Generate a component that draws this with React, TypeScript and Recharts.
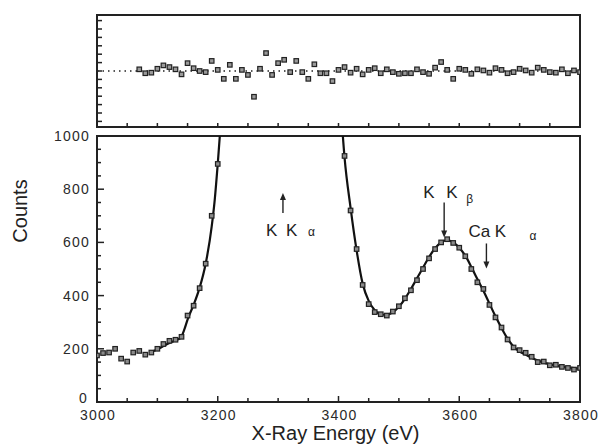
import React from 'react';
import {
  ComposedChart,
  Line,
  Scatter,
  XAxis,
  YAxis,
  ReferenceLine,
  ReferenceArea,
  ReferenceDot,
} from 'recharts';

// ---------- data ----------
const fitEnergy = [
  3090, 3100, 3110, 3120, 3130, 3138, 3145, 3150, 3160, 3170, 3180, 3190, 3195, 3200, 3206,
  3300,
  3404, 3410, 3420, 3430, 3440, 3450, 3460, 3470, 3480, 3490, 3500, 3510, 3520, 3530, 3540,
  3550, 3560, 3570, 3580, 3590, 3600, 3610, 3620, 3630, 3640, 3650, 3660, 3670, 3680, 3690,
  3700, 3710, 3720, 3730, 3740, 3750, 3760, 3770, 3780, 3790, 3800,
];
const fitCounts: (number | null)[] = [
  188, 198, 210, 222, 232, 240, 275, 310, 365, 430, 520, 660, 760, 895, 1080,
  null,
  1100, 920, 730, 570, 445, 380, 345, 330, 328, 338, 358, 388, 425, 465, 505,
  545, 578, 600, 608, 600, 580, 550, 508, 462, 418, 370, 322, 278, 238, 208,
  190, 178, 166, 156, 148, 142, 137, 133, 130, 127, 125,
];

const measEnergy = [
  3000, 3010, 3020, 3030, 3040, 3050, 3060, 3070, 3080, 3090, 3100, 3110, 3120, 3130, 3140,
  3150, 3160, 3170, 3180, 3190, 3200,
  3410, 3420, 3430, 3440, 3450, 3460, 3470, 3480, 3490, 3500, 3510, 3520, 3530, 3540, 3550,
  3560, 3570, 3580, 3590, 3600, 3610, 3620, 3630, 3640, 3650, 3660, 3670, 3680, 3690, 3700,
  3710, 3720, 3730, 3740, 3750, 3760, 3770, 3780, 3790, 3800,
];
const measCounts = [
  175, 184, 186, 200, 163, 152, 186, 192, 178, 186, 200, 218, 230, 234, 245,
  325, 362, 428, 520, 700, 895,
  925, 720, 575, 440, 368, 338, 330, 325, 340, 360, 390, 420, 458, 500, 540,
  575, 600, 612, 598, 580, 548, 500, 450, 425, 365, 318, 280, 235, 205, 195,
  185, 170, 150, 152, 138, 140, 132, 128, 122, 128,
];

const resEnergy = [
  3070, 3080, 3090, 3100, 3110, 3120, 3130, 3140, 3150, 3160, 3170, 3180, 3190, 3200, 3210,
  3220, 3230, 3240, 3250, 3260, 3270, 3280, 3290, 3300, 3310, 3320, 3330, 3340, 3350, 3360,
  3370, 3380, 3390, 3400, 3410, 3420, 3430, 3440, 3450, 3460, 3470, 3480, 3490, 3500, 3510,
  3520, 3530, 3540, 3550, 3560, 3570, 3580, 3590, 3600, 3610, 3620, 3630, 3640, 3650, 3660,
  3670, 3680, 3690, 3700, 3710, 3720, 3730, 3740, 3750, 3760, 3770, 3780, 3790, 3800,
];
const resValues = [
  0.3, -0.4, -0.3, 0.4, 1.0, 0.7, 0.3, -0.6, 1.4, 0.5, 0, -0.2, 1.8, 0.2, -1.4,
  1.1, -1.4, 0.2, -0.7, -4.6, 0.4, 3.2, -0.7, 1.4, 2.0, -0.2, 1.8, -0.2, -1.4, 1.2,
  -0.4, -0.4, -1.8, 0.2, 0.7, -0.3, 0.4, -0.6, 0.2, 0.5, -0.4, 0.3, -0.2, -0.5, -0.4,
  -0.4, 0.3, -0.2, -0.5, 0.6, 1.6, 0.2, -1.4, 0.4, 0.2, -0.5, 0.3, 0.1, -0.3, 0.5,
  0.2, -0.4, -0.2, 0.4, 0.1, -0.3, 0.6, 0.2, -0.2, -0.3, 0.3, -0.4, 0.1, -0.2,
];

const xLabelTicks = [3000, 3200, 3400, 3600, 3800];
const yLabelTicks = [0, 200, 400, 600, 800, 1000];
const xDomain = [3000, 3800];
const yDomain = [0, 1000];
const resDomain = [-10, 10];

// tick positions (minor every 50 eV / 50 counts)
const xTickPositions: number[] = [];
for (let v = 3000; v <= 3800; v += 50) xTickPositions.push(v);
const yTickPositions: number[] = [];
for (let v = 0; v <= 1000; v += 50) yTickPositions.push(v);
const resTickPositions: number[] = [];
for (let v = -9; v <= 9.01; v += 1.5) resTickPositions.push(Math.round(v * 10) / 10);

// ---------- derived tables ----------
const fitData = fitEnergy.map((e, i) => ({ e, c: fitCounts[i] }));
const measData = measEnergy.map((e, i) => ({ e, c: measCounts[i] }));
const resData = resEnergy.map((e, i) => ({ e, r: resValues[i] }));

// ---------- styling ----------
const INK = '#222';
const FONT = '"Liberation Sans", Arial, Helvetica, sans-serif';

const makeSquare = (size: number, fill: string) => (p: any) => (
  <rect
    x={p.cx - size / 2}
    y={p.cy - size / 2}
    width={size}
    height={size}
    fill={fill}
    stroke={INK}
    strokeWidth={1.2}
  />
);

const BottomYTick = (props: any) => {
  const { x, y, payload } = props;
  const v = payload.value;
  const major = yLabelTicks.includes(v);
  return (
    <g>
      <line x1={x} x2={x + (major ? 7 : 4)} y1={y} y2={y} stroke={INK} strokeWidth={1.5} />
      {major && (
        <text
          x={x - (v === 0 ? 9 : 7)}
          y={y}
          dy={v === 0 ? 1 : 5}
          textAnchor="end"
          fontSize={14}
          fill="#2a2a2a"
          fontFamily={FONT}
          letterSpacing={1.2}
        >
          {v}
        </text>
      )}
    </g>
  );
};

const BottomXTick = (props: any) => {
  const { x, y, payload } = props;
  const v = payload.value;
  const major = xLabelTicks.includes(v);
  return (
    <g>
      <line x1={x} x2={x} y1={y} y2={y - (major ? 6 : 4)} stroke={INK} strokeWidth={1.5} />
      {major && (
        <text
          x={x + 1}
          y={y + 18}
          textAnchor="middle"
          fontSize={14}
          fill="#2a2a2a"
          fontFamily={FONT}
          letterSpacing={1.2}
        >
          {v}
        </text>
      )}
    </g>
  );
};

const TopXTick = (props: any) => {
  const { x, y } = props;
  return <line x1={x} x2={x} y1={y} y2={y - 4} stroke={INK} strokeWidth={1.5} />;
};

const TopYTick = (props: any) => {
  const { x, y } = props;
  return <line x1={x} x2={x + 5} y1={y} y2={y} stroke={INK} strokeWidth={1.5} />;
};

const Arrow = ({ x, y1, y2 }: { x: number; y1: number; y2: number }) => {
  const dir = y2 > y1 ? 1 : -1;
  return (
    <g>
      <line x1={x} x2={x} y1={y1} y2={y2 - dir * 4} stroke={INK} strokeWidth={1.4} />
      <path d={`M${x - 3},${y2 - dir * 7} L${x + 3},${y2 - dir * 7} L${x},${y2} Z`} fill={INK} />
    </g>
  );
};

const txt = { fontFamily: FONT, fill: INK } as const;

const KalphaShape = (p: any) => {
  const { cx, cy } = p;
  return (
    <g>
      <Arrow x={cx} y1={cy + 20} y2={cy} />
      <text x={cx - 17} y={cy + 43} fontSize={17} {...txt}>K</text>
      <text x={cx + 3} y={cy + 43} fontSize={17} {...txt}>K</text>
      <text x={cx + 25} y={cy + 43} fontSize={12} {...txt}>α</text>
    </g>
  );
};

const KbetaShape = (p: any) => {
  const { cx, cy } = p;
  return (
    <g>
      <Arrow x={cx} y1={cy - 35} y2={cy} />
      <text x={cx - 21} y={cy - 40} fontSize={17} {...txt}>K</text>
      <text x={cx + 2} y={cy - 40} fontSize={17} {...txt}>K</text>
      <text x={cx + 22} y={cy - 35} fontSize={12} {...txt}>β</text>
    </g>
  );
};

const CaShape = (p: any) => {
  const { cx, cy } = p;
  return (
    <g>
      <Arrow x={cx} y1={cy - 25} y2={cy} />
      <text x={cx - 18} y={cy - 31} fontSize={17} {...txt}>Ca K</text>
      <text x={cx + 43} y={cy - 28} fontSize={12} {...txt}>α</text>
    </g>
  );
};

const XLabel = (props: any) => {
  const vb = props.viewBox || {};
  return (
    <text
      x={vb.x + vb.width / 2 - 3}
      y={vb.y + 38}
      textAnchor="middle"
      fontSize={20}
      fontFamily={FONT}
      fill={INK}
    >
      X-Ray Energy (eV)
    </text>
  );
};

const YLabel = (props: any) => {
  const vb = props.viewBox || {};
  const cx = vb.x - 10;
  const cy = vb.y + 75;
  return (
    <text
      x={cx}
      y={cy}
      transform={`rotate(-90 ${cx} ${cy})`}
      textAnchor="middle"
      fontSize={20}
      fontFamily={FONT}
      fill={INK}
    >
      Counts
    </text>
  );
};

export default function App() {
  return (
    <div
      style={{
        position: 'absolute',
        left: 0,
        top: 0,
        width: 608,
        height: 446,
        background: '#fff',
      }}
    >
      <div style={{ position: 'absolute', left: 0, top: 0 }}>
        <ComposedChart
          width={608}
          height={130}
          margin={{ top: 15, right: 28, bottom: 0, left: 37 }}
        >
          <XAxis
            type="number"
            dataKey="e"
            domain={xDomain}
            ticks={xTickPositions}
            interval={0}
            tickSize={0}
            tickMargin={0}
            tickLine={false}
            tick={<TopXTick />}
            axisLine={{ stroke: INK, strokeWidth: 2 }}
            height={3}
            allowDataOverflow
          />
          <YAxis
            type="number"
            domain={resDomain}
            ticks={resTickPositions}
            interval={0}
            width={60}
            tickSize={0}
            tickMargin={0}
            tickLine={false}
            tick={<TopYTick />}
            axisLine={{ stroke: INK, strokeWidth: 2 }}
            allowDataOverflow
          />
          <ReferenceArea
            x1={xDomain[0]}
            x2={xDomain[1]}
            y1={resDomain[0]}
            y2={resDomain[1]}
            fill="none"
            stroke={INK}
            strokeWidth={2}
            fillOpacity={0}
          />
          <ReferenceLine y={0} stroke={INK} strokeWidth={1.6} strokeDasharray="1.5 4" />
          <Scatter
            data={resData}
            dataKey="r"
            shape={makeSquare(4.5, '#9a9a9a')}
            isAnimationActive={false}
          />
        </ComposedChart>
      </div>
      <div style={{ position: 'absolute', left: 0, top: 116 }}>
        <ComposedChart
          width={608}
          height={330}
          margin={{ top: 20, right: 28, bottom: 0, left: 37 }}
        >
          <XAxis
            type="number"
            dataKey="e"
            domain={xDomain}
            ticks={xTickPositions}
            interval={0}
            tickSize={0}
            tickMargin={0}
            tickLine={false}
            tick={<BottomXTick />}
            axisLine={{ stroke: INK, strokeWidth: 2 }}
            height={44}
            allowDataOverflow
            label={<XLabel />}
          />
          <YAxis
            type="number"
            domain={yDomain}
            ticks={yTickPositions}
            interval={0}
            width={60}
            tickSize={0}
            tickMargin={0}
            tickLine={false}
            tick={<BottomYTick />}
            axisLine={{ stroke: INK, strokeWidth: 2 }}
            allowDataOverflow
            label={<YLabel />}
          />
          <ReferenceArea
            x1={xDomain[0]}
            x2={xDomain[1]}
            y1={yDomain[0]}
            y2={yDomain[1]}
            fill="none"
            stroke={INK}
            strokeWidth={2}
            fillOpacity={0}
          />
          <Line
            data={fitData}
            dataKey="c"
            type="monotone"
            stroke="#111"
            strokeWidth={2.2}
            dot={false}
            connectNulls={false}
            isAnimationActive={false}
          />
          <Scatter
            data={measData}
            dataKey="c"
            shape={makeSquare(4.5, '#8a8a8a')}
            isAnimationActive={false}
          />
          <ReferenceDot x={3308} y={786} r={0} shape={KalphaShape} ifOverflow="visible" />
          <ReferenceDot x={3575} y={618} r={0} shape={KbetaShape} ifOverflow="visible" />
          <ReferenceDot x={3645} y={502} r={0} shape={CaShape} ifOverflow="visible" />
        </ComposedChart>
      </div>
    </div>
  );
}
